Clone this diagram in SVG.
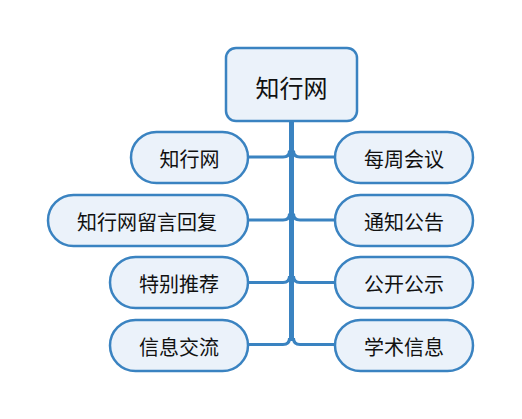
<svg xmlns="http://www.w3.org/2000/svg" width="522" height="419" viewBox="0 0 522 419">
<style>
.n{fill:#ebf2fa;stroke:#3a83c1;stroke-width:2.5}
.t{font-family:"Noto Sans CJK SC","Noto Sans CJK JP",sans-serif;font-size:20px;fill:#111;text-anchor:middle;dominant-baseline:central}
.c{fill:none;stroke:#3a83c1;stroke-width:3}
.k{fill:none;stroke:#3a83c1;stroke-width:5}
</style>
<rect width="522" height="419" fill="#fff"/>
<g id="connectors">
<path class="k" d="M291.5 121 V341"/>
<path class="c" d="M248 157 H283 Q289.5 157 289.5 150.5"/>
<path class="c" d="M248 220 H283 Q289.5 220 289.5 213.5"/>
<path class="c" d="M248 282.5 H283 Q289.5 282.5 289.5 276"/>
<path class="c" d="M248 344.5 H283 Q289.5 344.5 289.5 338"/>
<path class="c" d="M335 157 H300 Q293.5 157 293.5 150.5"/>
<path class="c" d="M335 220 H300 Q293.5 220 293.5 213.5"/>
<path class="c" d="M335 282.5 H300 Q293.5 282.5 293.5 276"/>
<path class="c" d="M335 344.5 H300 Q293.5 344.5 293.5 338"/>
</g>
<g id="root"><rect class="n" x="226" y="48" width="131" height="73" rx="10"/><text class="t" x="291.5" y="86" style="font-size:24px">知行网</text></g>
<g id="l1"><rect class="n" x="131" y="132" width="117" height="51" rx="25.5"/><text class="t" x="189.5" y="158">知行网</text></g>
<g id="l2"><rect class="n" x="48" y="195" width="200" height="51" rx="25.5"/><text class="t" x="147" y="221">知行网留言回复</text></g>
<g id="l3"><rect class="n" x="110" y="257" width="138" height="51" rx="25.5"/><text class="t" x="179" y="283">特别推荐</text></g>
<g id="l4"><rect class="n" x="110" y="320" width="138" height="51" rx="25.5"/><text class="t" x="179" y="346">信息交流</text></g>
<g id="r1"><rect class="n" x="335" y="132" width="138" height="51" rx="25.5"/><text class="t" x="404" y="158">每周会议</text></g>
<g id="r2"><rect class="n" x="335" y="195" width="138" height="51" rx="25.5"/><text class="t" x="404" y="221">通知公告</text></g>
<g id="r3"><rect class="n" x="335" y="257" width="138" height="51" rx="25.5"/><text class="t" x="404" y="283">公开公示</text></g>
<g id="r4"><rect class="n" x="335" y="320" width="138" height="51" rx="25.5"/><text class="t" x="404" y="346">学术信息</text></g>
</svg>
